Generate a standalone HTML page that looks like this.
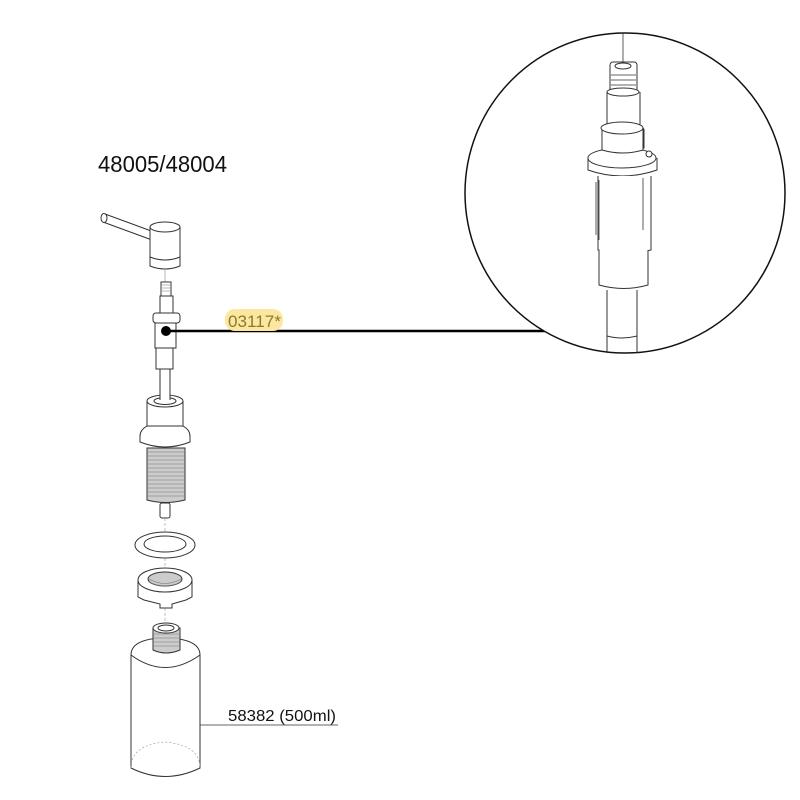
<!DOCTYPE html>
<html><head><meta charset="utf-8"><style>html,body{margin:0;padding:0;background:#fff}svg{display:block}</style></head>
<body>
<svg width="800" height="800" viewBox="0 0 800 800" xmlns="http://www.w3.org/2000/svg" font-family="Liberation Sans, sans-serif">
<g fill="#fff" stroke="#333" stroke-width="1">
<!-- title -->
<text x="98" y="172" font-size="23" fill="#111" stroke="none" textLength="129" lengthAdjust="spacingAndGlyphs">48005/48004</text>

<!-- spout -->
<path d="M105 214 L154 232 L152 240 L103 222 Z" stroke-linejoin="round"/>
<ellipse cx="104" cy="218" rx="3" ry="4.5"/>
<path d="M150 227 V266 Q165 272 180 266 V227"/>
<ellipse cx="165" cy="227" rx="15" ry="5"/>
<path d="M150 257 Q165 263 180 257" fill="none"/>
<line x1="165" y1="270" x2="165" y2="282" stroke="#888" stroke-width="0.6"/>

<!-- cartridge -->
<rect x="161" y="282" width="10" height="14" />
<path d="M162 285h8M162 288h8M162 291h8" stroke="#777" stroke-width="0.6"/>
<rect x="160" y="296" width="13" height="17"/>
<rect x="153" y="313" width="27" height="10" rx="3"/>
<rect x="155" y="323" width="21" height="25"/>
<rect x="156" y="348" width="17" height="21"/>
<rect x="160" y="369" width="10" height="30"/>
<circle cx="166" cy="331" r="5" fill="#000" stroke="none"/>
<line x1="166" y1="331" x2="545" y2="331" stroke="#000" stroke-width="2.5"/>
<rect x="225" y="309" width="58" height="22" rx="10" fill="#fbe7a0" stroke="none"/>
<text x="228" y="327" font-size="17" fill="#8c7a2e" stroke="none" textLength="53" lengthAdjust="spacingAndGlyphs">03117*</text>

<!-- housing -->
<path d="M147 401 V426 H183 V401"/>
<ellipse cx="165" cy="401" rx="18" ry="6"/>
<ellipse cx="165" cy="401" rx="11" ry="3.5"/>
<rect x="160" y="385" width="10" height="16" stroke="none"/>
<line x1="160" y1="385" x2="160" y2="400"/><line x1="170" y1="385" x2="170" y2="400"/>
<path d="M147 426 Q140 430 140 436 V442 Q165 452 190 442 V436 Q190 430 183 426 Z"/>
<path d="M147 448 V500 Q165 505 185 500 V448 Z" fill="#ccc"/>
<g stroke="#777" stroke-width="0.6">
<path d="M147 452h38M147 456h38M147 460h38M147 464h38M147 468h38M147 472h38M147 476h38M147 480h38M147 484h38M147 488h38M147 492h38M147 496h38"/>
</g>
<rect x="160" y="503" width="10" height="15" rx="2"/>
<line x1="165" y1="518" x2="165" y2="775" stroke="#999" stroke-width="0.6" stroke-dasharray="3,2"/>

<!-- washer -->
<ellipse cx="165" cy="545" rx="30" ry="13"/>
<ellipse cx="165" cy="544" rx="21" ry="8"/>

<!-- nut -->
<path d="M138 580 V597 L144 600 L160 604 V608 H172 V604 L186 600 L192 597 V580"/>
<ellipse cx="165" cy="580" rx="27" ry="12"/>
<ellipse cx="165" cy="579" rx="17" ry="7" fill="#ccc"/>
<path d="M149 579 Q165 588 181 579 M149 582 Q165 590 181 582" fill="none" stroke="#777" stroke-width="0.6"/>

<!-- bottle -->
<path d="M131 655 Q131 640 160 638 L170 638 Q200 640 200 655 V768 Q165 785 131 768 Z"/>
<path d="M131 655 Q165 680 200 655" fill="none"/>
<path d="M153 628 V650 Q166 656 180 650 V628 Z" fill="#ccc"/>
<ellipse cx="166" cy="628" rx="13" ry="5"/>
<ellipse cx="166" cy="628" rx="8" ry="3"/>
<path d="M153 634h27M153 638h27M153 642h27M153 646h27" stroke="#777" stroke-width="0.6"/>
<path d="M131 768 Q131 745 165 742 Q200 745 200 768" fill="none" stroke="#999" stroke-dasharray="2,2" stroke-width="0.6"/>
<line x1="200" y1="725" x2="338" y2="725" stroke-width="0.8"/>
<text x="228" y="721" font-size="16" fill="#111" stroke="none" textLength="108" lengthAdjust="spacingAndGlyphs">58382 (500ml)</text>

<!-- zoom circle -->
<circle cx="625" cy="193" r="160" stroke="#111" stroke-width="1.5"/>
<line x1="623" y1="33" x2="623" y2="62" stroke-width="0.8"/>
<rect x="610" y="62" width="27" height="36" rx="3"/>
<ellipse cx="623" cy="66" rx="8" ry="3"/>
<path d="M611 75h25M611 80h25M611 85h25M611 90h25" stroke-width="0.7"/>
<path d="M607 92 V130 H640 V92"/>
<ellipse cx="623" cy="92" rx="16" ry="4"/>
<path d="M602 130 V148 Q623 155 644 148 V130"/>
<ellipse cx="623" cy="130" rx="21" ry="6"/>
<path d="M588 158 V170 Q622 182 657 170 V158"/>
<ellipse cx="622" cy="158" rx="34" ry="10"/>
<path d="M602 128 V150 Q623 156 643 150 V128" fill="#fff"/>
<ellipse cx="622" cy="128" rx="21" ry="6"/>
<circle cx="649" cy="154" r="3"/>
<path d="M598 176 V250 Q624 256 651 250 V176"/>
<path d="M596 182 V235 M643 178 V230 M599 180 V240" stroke-width="0.8" fill="none"/>
<path d="M599 250 V285 Q624 292 648 285 V250"/>
<path d="M607 290 V353 M637 290 V353" fill="none"/>
<path d="M607 336 Q622 340 637 336" fill="none"/>
</g>
</svg>
</body></html>
